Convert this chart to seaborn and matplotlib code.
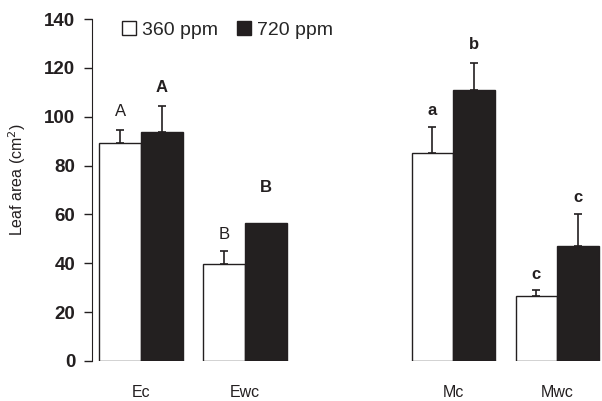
import pandas as pd
import matplotlib
matplotlib.use("Agg")
import matplotlib.pyplot as plt
import seaborn as sns
from matplotlib.patches import Patch

# data
groups = ["Ec", "Ewc", "Mc", "Mwc"]
group_pos = [0, 1, 3, 4]          # gap between E and M groups
co2_levels = ["360 ppm", "720 ppm"]
mean_360 = [89.2, 39.5, 85.3, 26.6]
mean_720 = [93.8, 56.5, 111.0, 47.2]
err_360 = [5.3, 5.5, 10.5, 2.4]
err_720 = [10.6, 0.0, 11.0, 13.0]
letters_360 = ["A", "B", "a", "c"]
letters_720 = ["A", "B", "b", "c"]
letter_y_360 = [99, 48.8, 99.4, 32.4]
letter_y_720 = [109, 68, 126.5, 64]

sns.set_style("ticks")
plt.rcParams['font.family'] = ['Liberation Sans', 'DejaVu Sans']

df = pd.DataFrame({
    "pos": group_pos * 2,
    "co2": [co2_levels[0]] * 4 + [co2_levels[1]] * 4,
    "area": mean_360 + mean_720,
})

fig = plt.figure(figsize=(6.02, 4.01), dpi=100)
ax = fig.add_axes([0.153, 0.0998, 0.847, 0.8528])

dark = "#231f20"
sns.barplot(data=df, x="pos", y="area", hue="co2", native_scale=True,
            palette=["white", dark], edgecolor=dark, linewidth=1.0,
            errorbar=None, width=0.8, legend=False, ax=ax)

off = 0.2
for xs, ms, es in [([p - off for p in group_pos], mean_360, err_360),
                   ([p + off for p in group_pos], mean_720, err_720)]:
    keep = [i for i, e in enumerate(es) if e > 0]
    ax.errorbar([xs[i] for i in keep], [ms[i] for i in keep],
                yerr=[[0] * len(keep), [es[i] for i in keep]], fmt="none",
                ecolor=dark, elinewidth=1.2, capsize=3, capthick=1.2)

for p, y, t in zip(group_pos, letter_y_360, letters_360):
    ax.text(p - off, y, t, ha="center", va="bottom", fontsize=12,
            fontweight="bold" if t.islower() else "normal", color=dark)
for p, y, t in zip(group_pos, letter_y_720, letters_720):
    ax.text(p + off, y, t, ha="center", va="bottom", fontsize=12,
            fontweight="bold", color=dark)

ax.set_xlim(-0.47, 4.43)
ax.set_ylim(0, 140)
ax.set_yticks(range(0, 141, 20))
ax.set_xticks(group_pos)
ax.set_xticklabels(groups, fontsize=11.5, color=dark)
ax.tick_params(axis="x", length=0, pad=17)
ax.tick_params(axis="y", labelsize=13.5, length=6, width=1, pad=6,
               direction="out", colors=dark)
for lab in ax.get_yticklabels():
    lab.set_fontweight("bold")
ax.set_xlabel("")
ax.set_ylabel("Leaf area (cm$^{2}$)", fontsize=11.5, labelpad=12, color=dark)
ax.yaxis.set_label_coords(-0.125, 0.53)
sns.despine(ax=ax, bottom=True)
ax.spines["left"].set_color(dark)

handles = [Patch(facecolor="white", edgecolor=dark, label=co2_levels[0]),
           Patch(facecolor=dark, edgecolor=dark, label=co2_levels[1])]
ax.legend(handles=handles, loc="upper left", bbox_to_anchor=(0.025, 1.045),
          ncol=2, frameon=False, fontsize=14, handlelength=0.7,
          handleheight=0.7, handletextpad=0.3, columnspacing=1.0)

fig.savefig("out.png", dpi=100)
